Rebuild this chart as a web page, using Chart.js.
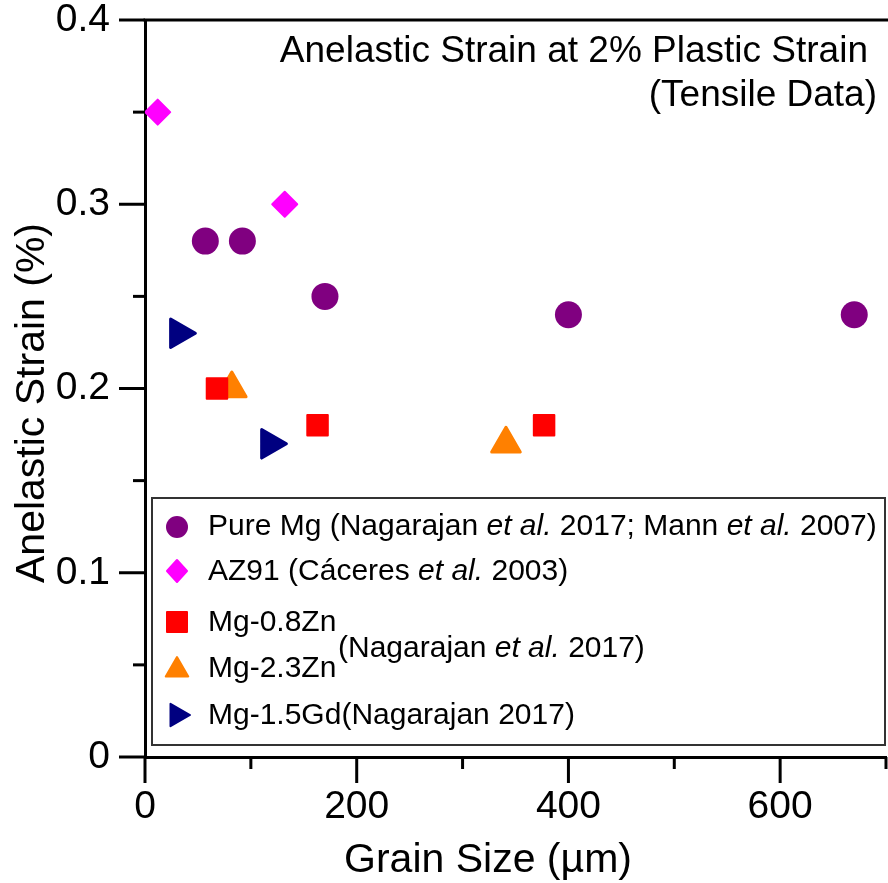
<!DOCTYPE html>
<html>
<head>
<meta charset="utf-8">
<script src="https://cdn.jsdelivr.net/npm/chart.js@4/dist/chart.umd.min.js"></script>
<style>
  html, body { margin: 0; padding: 0; background: #fff; }
  canvas { display: block; }
</style>
</head>
<body>
<canvas id="c" width="888" height="883"></canvas>
<script>
// Grain size (µm) and anelastic strain (%) for each alloy
const pureMgX = [57, 92, 170, 400, 670];
const pureMgY = [0.28, 0.28, 0.25, 0.24, 0.24];
const az91X = [12, 132];
const az91Y = [0.35, 0.30];
const mg08ZnX = [68, 163, 377];
const mg08ZnY = [0.20, 0.18, 0.18];
const mg23ZnX = [82, 341];
const mg23ZnY = [0.20, 0.17];
const mg15GdX = [32, 118];
const mg15GdY = [0.23, 0.17];

const seriesNames = ['Pure Mg', 'AZ91', 'Mg-0.8Zn', 'Mg-2.3Zn', 'Mg-1.5Gd'];
const xTicks = [0, 200, 400, 600];
const yTicks = [0, 0.1, 0.2, 0.3, 0.4];

const FONT = '"Liberation Sans", Arial, Helvetica, sans-serif';

function pts(xs, ys) { return xs.map((x, i) => ({ x: x, y: ys[i] })); }

// marker shapes shared by the legend
function marker(ctx, style, x, y, color) {
  ctx.save();
  ctx.fillStyle = color;
  ctx.strokeStyle = color;
  ctx.lineWidth = 2;
  ctx.lineJoin = 'round';
  ctx.beginPath();
  if (style === 'circle') {
    ctx.arc(x, y, 11, 0, Math.PI * 2);
  } else if (style === 'diamond') {
    ctx.moveTo(x, y - 11); ctx.lineTo(x + 10, y); ctx.lineTo(x, y + 11); ctx.lineTo(x - 10, y);
  } else if (style === 'square') {
    ctx.rect(x - 10, y - 10, 20, 20);
  } else if (style === 'triUp') {
    const r = 13;
    ctx.moveTo(x, y - r);
    ctx.lineTo(x + r * Math.sin(2 * Math.PI / 3), y - r * Math.cos(2 * Math.PI / 3));
    ctx.lineTo(x + r * Math.sin(4 * Math.PI / 3), y - r * Math.cos(4 * Math.PI / 3));
  } else if (style === 'triRight') {
    const r = 13;
    ctx.moveTo(x + r, y);
    ctx.lineTo(x - r / 2, y - r * Math.sin(Math.PI / 3));
    ctx.lineTo(x - r / 2, y + r * Math.sin(Math.PI / 3));
  }
  ctx.closePath();
  ctx.fill();
  if (style !== 'circle') ctx.stroke();
  ctx.restore();
}

// draw a run of text pieces; pieces flagged italic use an italic face
function runs(ctx, pieces, x, y, size) {
  let cx = x;
  pieces.forEach(p => {
    ctx.font = (p.i ? 'italic ' : '') + size + 'px ' + FONT;
    ctx.fillText(p.t, cx, y);
    cx += ctx.measureText(p.t).width;
  });
}

// softened marker corners
const roundJoins = {
  id: 'roundJoins',
  beforeDatasetsDraw(chart) { chart.ctx.lineJoin = 'round'; }
};

const decorations = {
  id: 'decorations',
  afterDraw(chart) {
    const ctx = chart.ctx;
    const xs = chart.scales.x, ys = chart.scales.y;
    const area = chart.chartArea;
    ctx.save();
    ctx.lineJoin = 'miter';
    ctx.strokeStyle = '#000';
    ctx.fillStyle = '#000';

    // top frame line
    ctx.lineWidth = 3;
    ctx.beginPath();
    ctx.moveTo(area.left - 1.5, area.top);
    ctx.lineTo(888, area.top);
    ctx.stroke();

    // tick marks: long at labelled values, short in between
    ctx.lineWidth = 3;
    for (let v = 0; v <= 700; v += 100) {
      const px = xs.getPixelForValue(v);
      const len = (v % 200 === 0) ? 26 : 12;
      ctx.beginPath();
      ctx.moveTo(px, area.bottom);
      ctx.lineTo(px, area.bottom + len);
      ctx.stroke();
    }
    for (let k = 0; k <= 8; k++) {
      const py = ys.getPixelForValue(k * 0.05);
      const len = (k % 2 === 0) ? 26 : 12;
      ctx.beginPath();
      ctx.moveTo(area.left, py);
      ctx.lineTo(area.left - len, py);
      ctx.stroke();
    }

    // axis titles
    ctx.textBaseline = 'alphabetic';
    ctx.font = '41px ' + FONT;
    ctx.textAlign = 'center';
    ctx.fillText('Grain Size (µm)', 488, 872);
    ctx.save();
    ctx.translate(44, 403);
    ctx.rotate(-Math.PI / 2);
    ctx.fillText('Anelastic Strain (%)', 0, 0);
    ctx.restore();

    // panel caption
    ctx.font = '37px ' + FONT;
    ctx.textAlign = 'right';
    ctx.fillText('Anelastic Strain at 2% Plastic Strain', 868, 62);
    ctx.fillText('(Tensile Data)', 877, 106);

    // legend box
    ctx.fillStyle = '#fff';
    ctx.fillRect(152, 498, 733, 247);
    ctx.strokeStyle = '#333';
    ctx.lineWidth = 2;
    ctx.strokeRect(152, 498, 733, 247);

    const colors = chart.data.datasets.map(d => d.backgroundColor);
    marker(ctx, 'circle', 177, 527, colors[0]);
    marker(ctx, 'diamond', 177, 571, colors[1]);
    marker(ctx, 'square', 177, 622, colors[2]);
    marker(ctx, 'triUp', 177, 670, colors[3]);
    marker(ctx, 'triRight', 177, 715, colors[4]);

    ctx.fillStyle = '#000';
    ctx.textAlign = 'left';
    const etal = { t: 'et al.', i: true };
    runs(ctx, [{ t: seriesNames[0] + ' (Nagarajan ' }, etal, { t: ' 2017; Mann ' }, etal, { t: ' 2007)' }], 208, 535, 30);
    runs(ctx, [{ t: seriesNames[1] + ' (Cáceres ' }, etal, { t: ' 2003)' }], 208, 580, 30);
    runs(ctx, [{ t: seriesNames[2] }], 208, 631, 30);
    runs(ctx, [{ t: seriesNames[3] }], 208, 677, 30);
    runs(ctx, [{ t: '(Nagarajan ' }, etal, { t: ' 2017)' }], 338, 657, 30);
    runs(ctx, [{ t: seriesNames[4] + '(Nagarajan 2017)' }], 208, 724, 30);

    ctx.restore();
  }
};

// fixed scale sizes with no overhang padding, so the plot box is pinned
function pinX(s) { s.height = 126; s.paddingLeft = 0; s.paddingRight = 0; s.paddingTop = 0; s.paddingBottom = 0; }
function pinY(s) { s.width = 145; s.paddingLeft = 0; s.paddingRight = 0; s.paddingTop = 0; s.paddingBottom = 0; }

function series(i, xs, ys, color, style, radius, extra) {
  return Object.assign({
    label: seriesNames[i], data: pts(xs, ys),
    backgroundColor: color, borderColor: color, borderWidth: 0,
    pointStyle: style, pointRadius: radius, clip: false
  }, extra || {});
}

new Chart(document.getElementById('c'), {
  type: 'scatter',
  data: {
    datasets: [
      series(0, pureMgX, pureMgY, '#800080', 'circle', 13.5),
      series(1, az91X, az91Y, '#ff00ff', 'rectRot', 12.5, { borderWidth: 2 }),
      series(2, mg08ZnX, mg08ZnY, '#ff0000', 'rect', 14.5, { borderWidth: 2 }),
      series(3, mg23ZnX, mg23ZnY, '#ff8000', 'triangle', 16.5, { borderWidth: 3 }),
      series(4, mg15GdX, mg15GdY, '#000080', 'triangle', 16.5, { borderWidth: 3, pointRotation: 90 })
    ]
  },
  options: {
    responsive: false,
    animation: false,
    events: [],
    layout: { autoPadding: false, padding: { top: 20, right: 2, left: 0, bottom: 0 } },
    plugins: { legend: { display: false }, tooltip: { enabled: false } },
    scales: {
      x: {
        type: 'linear', min: 0, max: 700,
        afterFit: pinX,
        grid: { display: false, drawTicks: false },
        border: { display: true, width: 3, color: '#000' },
        ticks: {
          stepSize: 100, autoSkip: false, maxRotation: 0, padding: 27, color: '#000',
          font: { family: FONT, size: 39 },
          callback: v => (xTicks.includes(v) ? String(v) : '')
        }
      },
      y: {
        type: 'linear', min: 0, max: 0.4,
        afterFit: pinY,
        grid: { display: false, drawTicks: false },
        border: { display: true, width: 3, color: '#000' },
        ticks: {
          stepSize: 0.05, autoSkip: false, padding: 35, color: '#000',
          font: { family: FONT, size: 39 },
          callback: v => {
            const r = Math.round(v * 100) / 100;
            return yTicks.some(t => Math.abs(t - r) < 1e-9) ? String(r) : '';
          }
        }
      }
    }
  },
  plugins: [roundJoins, decorations]
});
</script>
</body>
</html>
